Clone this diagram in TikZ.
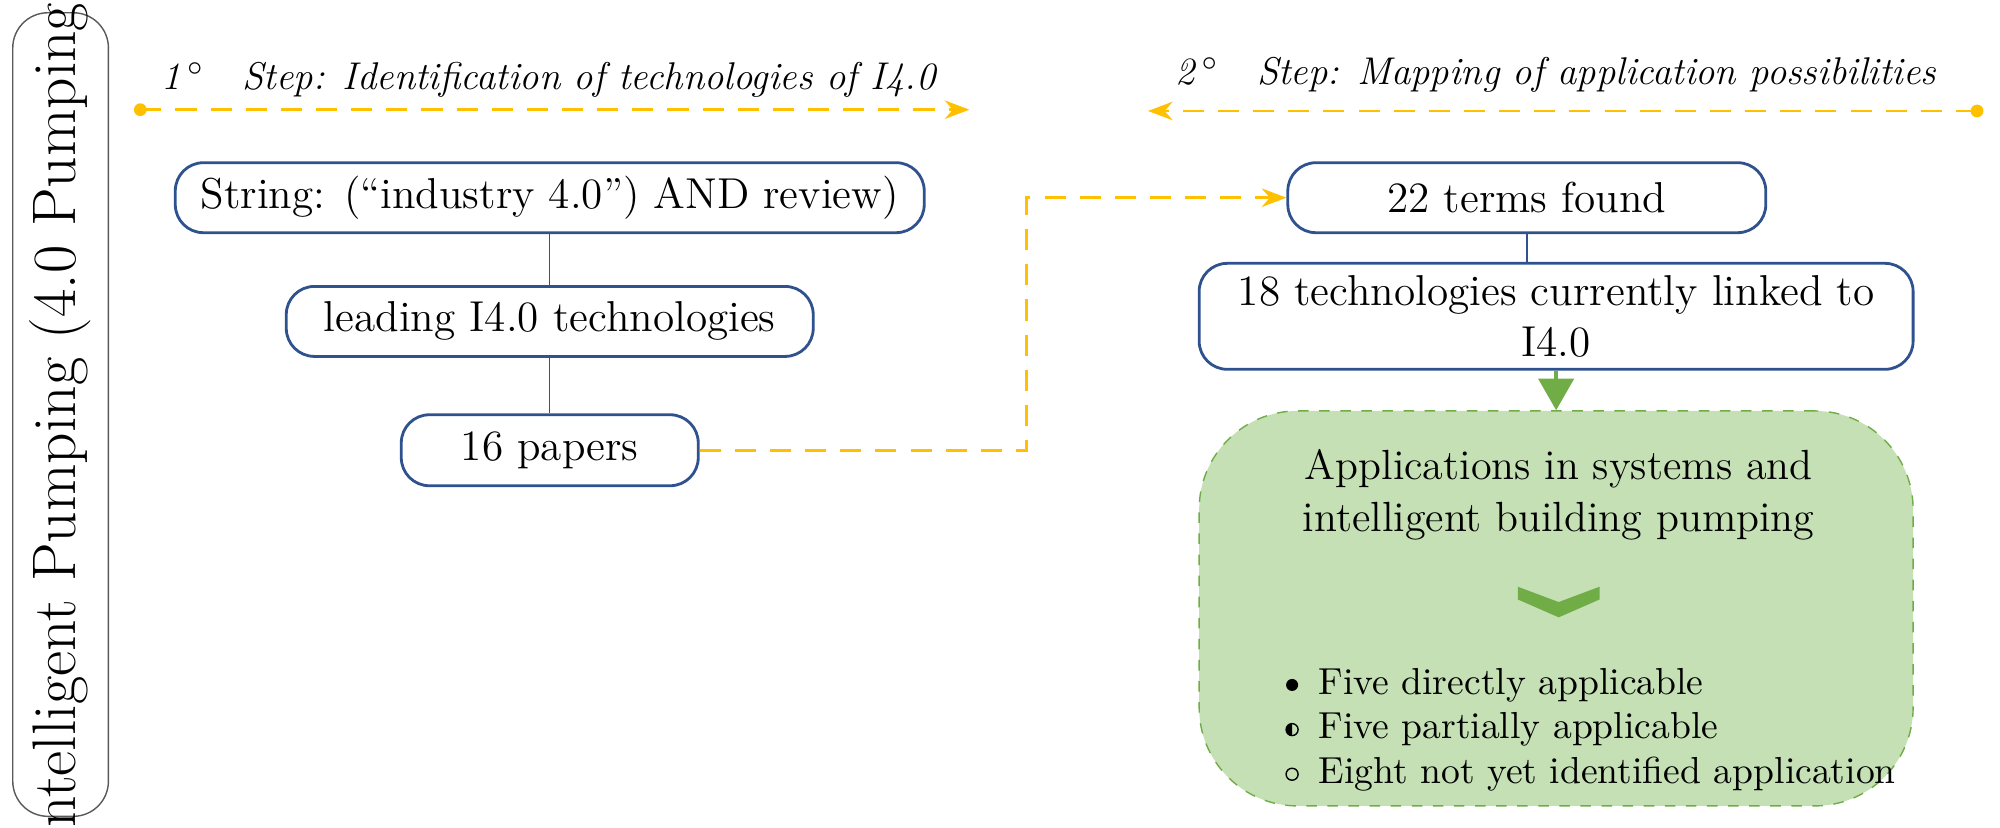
\documentclass[tikz,border=0pt]{standalone}
\usepackage{tikz}
\usetikzlibrary{arrows.meta,positioning,calc}
\definecolor{boxblue}{RGB}{47,82,143}
\definecolor{stepgold}{RGB}{255,192,0}
\definecolor{leafgreen}{RGB}{112,173,71}
\definecolor{leaffill}{RGB}{197,224,180}
\tikzset{
  step box/.style={draw=boxblue, rounded corners=8pt, thick, fill=white, inner sep=0pt,
    font=\fontsize{12.3}{14.5}\selectfont, align=center},
  gold dash/.style={stepgold, thick, dash pattern=on 6pt off 4pt},
  step title/.style={font=\fontsize{11}{13}\selectfont\itshape, anchor=base}
}
\begin{document}
\begin{tikzpicture}[x=0.012755cm,y=-0.012755cm]
    \useasboundingbox (0,0) rectangle (1568,649);

    % Side label
    \draw[gray!70!black, rounded corners=10pt] (10,10) rectangle (85,640);
    \node[rotate=90, font=\fontsize{17.5}{20}\selectfont] (side) at (47,325) {Intelligent Pumping (4.0 Pumping)};

    % Step titles
    \node[step title] (t1) at (430,70) {1\,$^\circ$\quad Step: Identification of technologies of I4.0};
    \node[step title] (t2) at (1220,66) {2\,$^\circ$\quad Step: Mapping of application possibilities};
    \coordinate (s1a) at (110,86);
    \coordinate (s1b) at (760,86);
    \coordinate (s2a) at (1550,87);
    \coordinate (s2b) at (900,87);
    \fill[stepgold] (s1a) circle (5);
    \fill[stepgold] (s2a) circle (5);
    \draw[gold dash, -{Stealth[length=7pt]}] (s1a) -- (s1b);
    \draw[gold dash, -{Stealth[length=7pt]}] (s2a) -- (s2b);

    % Step 1 boxes
    \node[step box, minimum width=7.49cm, minimum height=0.70cm] (str) at (431,155) {String: (``industry 4.0'') AND review)};
    \node[step box, minimum width=5.27cm, minimum height=0.70cm] (lead) at (431,252) {leading I4.0 technologies};
    \node[step box, minimum width=2.97cm, minimum height=0.71cm] (pap) at (431,353) {16 papers};
    \draw[boxblue] (str) -- (lead);
    \draw[boxblue] (lead) -- (pap);

    % Step 2 boxes
    \node[step box, minimum width=4.78cm, minimum height=0.70cm] (terms) at (1197,155) {22 terms found};
    \node[step box, minimum width=7.14cm, minimum height=1.06cm] (tech) at (1220,248) {18 technologies currently linked to\\I4.0};
    \draw[boxblue] (terms.south) -- (tech.north -| terms.south);

    % Link between the steps
    \draw[gold dash, -{Stealth[length=7pt]}] (pap.east) -- (805,353) -- (805,155) -- (terms.west);

    % Applications
    \node[draw=leafgreen, dashed, fill=leaffill, rounded corners=28pt, minimum width=7.14cm, minimum height=3.95cm] (app) at (1220,477) {};
    \draw[leafgreen, very thick, -{Triangle[length=9pt,width=10pt]}] (tech.south) -- (app.north);
    \node[font=\fontsize{12}{15}\selectfont, align=center] (apptitle) at (1222,388) {Applications in systems and\\intelligent building pumping};
    \fill[leafgreen] (1190,460) -- (1222,472) -- (1254,460) -- (1254,470) -- (1222,484) -- (1190,470) -- cycle;

    % Classification of the technologies
    \node[font=\fontsize{10.7}{12}\selectfont, anchor=west] (b1) at (1024,537) {Five directly applicable};
    \node[font=\fontsize{10.7}{12}\selectfont, anchor=west] (b2) at (1024,572) {Five partially applicable};
    \node[font=\fontsize{10.7}{12}\selectfont, anchor=west] (b3) at (1024,607) {Eight not yet identified application};
    \fill (1013,537) circle (0.06cm);
    \draw (1013,572) circle (0.06cm);
    \fill (1013,567.3) arc[start angle=90, end angle=270, radius=0.06cm] -- cycle;
    \draw (1013,607) circle (0.06cm);
\end{tikzpicture}
\end{document}
